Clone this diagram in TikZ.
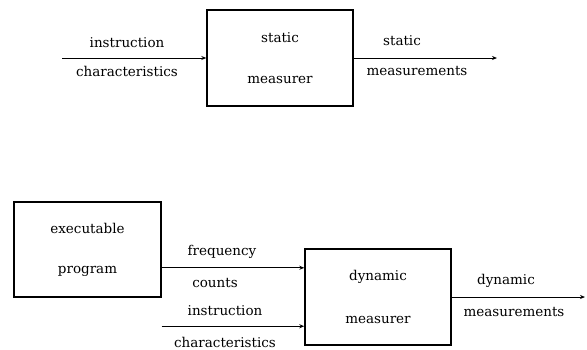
\documentclass[tikz,border=0pt]{standalone}
\usepackage{fontspec}
\setmainfont{DejaVu Serif}
\usetikzlibrary{arrows.meta,calc}
\begin{document}
\begin{tikzpicture}[>={Stealth[length=5pt,width=4pt]}, x=1pt, y=-1pt, line width=1pt,
	box/.style={draw, line width=1.4pt, minimum width=146pt, minimum height=96pt, inner sep=0pt, align=center, font=\fontsize{13.5}{41}\selectfont},
	lbl/.style={inner sep=0pt, font=\fontsize{13.5}{15}\selectfont}]
	\useasboundingbox (0,0) rectangle (587,349);
	% static measurement
	\node[box] (smeas) at (280,58) {static\\measurer};
	\coordinate (sin) at (62,58);
	\coordinate (sout) at (497,58);
	\draw[->] (sin) -- (smeas.west);
	\draw[->] (smeas.east) -- (sout);
	\node[lbl] (sinup) at (127,43) {instruction};
	\node[lbl] (sindn) at (127,71) {characteristics};
	\node[lbl] (soutup) at (402,41) {static};
	\node[lbl] (soutdn) at (417,71) {measurements};
	% dynamic measurement
	\node[box, minimum width=147pt, minimum height=95pt, font=\fontsize{13.5}{40}\selectfont] (exec) at (87.5,249.5) {executable\\program};
	\node[box, font=\fontsize{13.5}{43}\selectfont] (dmeas) at (378,297) {dynamic\\measurer};
	\coordinate (fcin) at ($(dmeas.north west)!0.2!(dmeas.south west)$);
	\coordinate (icin) at ($(dmeas.north west)!0.8!(dmeas.south west)$);
	\coordinate (icstart) at (exec.east |- icin);
	\coordinate (dout) at (585,297);
	\draw[->] (exec.east |- fcin) -- (fcin);
	\draw[->] (icstart) -- (icin);
	\draw[->] (dmeas.east) -- (dout);
	\node[lbl] (fcup) at (222,252) {frequency};
	\node[lbl] (fcdn) at (215,283) {counts};
	\node[lbl] (icup) at (225,311) {instruction};
	\node[lbl] (icdn) at (225,342) {characteristics};
	\node[lbl] (doutup) at (506,281) {dynamic};
	\node[lbl] (doutdn) at (514,312) {measurements};
\end{tikzpicture}
\end{document}
